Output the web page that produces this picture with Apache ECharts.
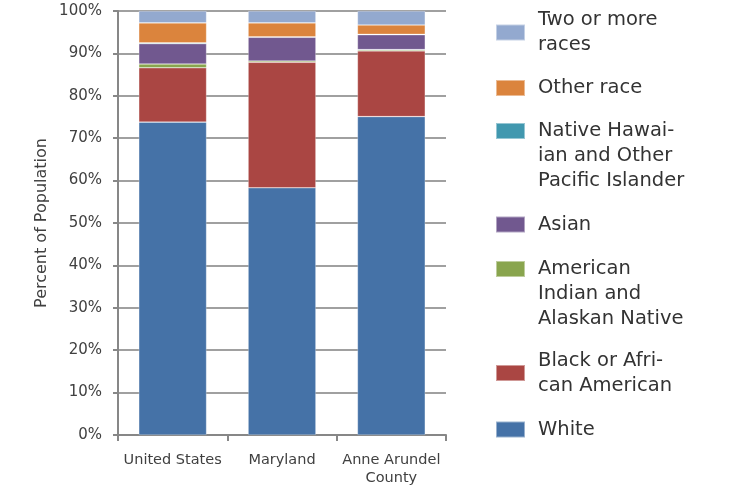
<!DOCTYPE html>
<html>
<head>
<meta charset="utf-8">
<script src="https://cdn.jsdelivr.net/npm/echarts@6/dist/echarts.min.js"></script>
<style>
html,body{margin:0;padding:0;background:#fff;}
#chart{width:729px;height:492px;}
</style>
</head>
<body>
<div id="chart"></div>
<script>
// ---- data ----
var categories = ['United States', 'Maryland', 'Anne Arundel County'];
var white      = [73.8, 58.3, 75.1];
var black      = [12.8, 29.6, 15.5];
var aian       = [0.9, 0.3, 0.3];
var asian      = [4.8, 5.6, 3.5];
var nhpi       = [0.2, 0.1, 0.1];
var otherRace  = [4.7, 3.3, 2.2];
var twoOrMore  = [2.8, 2.8, 3.3];
var yTicks = [0, 10, 20, 30, 40, 50, 60, 70, 80, 90, 100];

var seriesNames = ['White', 'Black or African American', 'American Indian and Alaskan Native',
  'Asian', 'Native Hawaiian and Other Pacific Islander', 'Other race', 'Two or more races'];
var seriesData = [white, black, aian, asian, nhpi, otherRace, twoOrMore];
var colors = ['#4572A7', '#AA4643', '#89A54E', '#71588F', '#4198AF', '#DB843D', '#93A9CF'];
// leading blank lines keep the icon aligned with the first text line
var legendLabels = {
  'Two or more races': 'Two or more\nraces',
  'Other race': 'Other race',
  'Native Hawaiian and Other Pacific Islander': '\n\nNative Hawai-\nian and Other\nPacific Islander',
  'Asian': 'Asian',
  'American Indian and Alaskan Native': '\n\nAmerican\nIndian and\nAlaskan Native',
  'Black or African American': 'Black or Afri-\ncan American',
  'White': 'White'
};
// legend layout: [name, top]
var legendLayout = [
  ['Two or more races', 7.5],
  ['Other race', 75.5],
  ['Native Hawaiian and Other Pacific Islander', 68.5],
  ['Asian', 212],
  ['American Indian and Alaskan Native', 206.5],
  ['Black or African American', 348],
  ['White', 417]
];

var FONT = 'DejaVu Sans';
var chart = echarts.init(document.getElementById('chart'));

var legends = legendLayout.map(function (l) {
  return {
    data: [l[0]],
    orient: 'vertical',
    left: 495,
    top: l[1],
    padding: 0,
    itemWidth: 29,
    itemHeight: 16,
    icon: 'rect',
    selectedMode: false,
    formatter: function (n) { return legendLabels[n]; },
    textStyle: {
      fontFamily: FONT, fontSize: 19.5, color: '#333333',
      lineHeight: 25, padding: [0, 0, 0, 8]
    }
  };
});

var series = seriesNames.map(function (n, i) {
  return {
    name: n,
    type: 'bar',
    stack: 'total',
    barWidth: '62%',
    data: seriesData[i],
    itemStyle: { color: colors[i], borderColor: 'rgba(255,255,255,0.45)', borderWidth: 0.6 },
    emphasis: { disabled: true }
  };
});

chart.setOption({
  animation: false,
  color: colors,
  textStyle: { fontFamily: FONT },
  grid: { left: 118, right: 283, top: 11, bottom: 57, containLabel: false },
  legend: legends,
  xAxis: {
    type: 'category',
    data: categories,
    axisLine: { lineStyle: { color: '#878787', width: 2 } },
    axisTick: { show: true, length: 6, lineStyle: { color: '#878787', width: 2 } },
    axisLabel: {
      color: '#404040', fontSize: 14.5, fontFamily: FONT, margin: 16, lineHeight: 18, interval: 0,
      formatter: function (v) { return v.replace('Anne Arundel ', 'Anne Arundel\n'); }
    }
  },
  yAxis: {
    type: 'value',
    min: yTicks[0], max: yTicks[yTicks.length - 1], interval: 10,
    name: 'Percent of Population',
    nameLocation: 'middle',
    nameGap: 68,
    nameRotate: 90,
    nameTextStyle: { color: '#404040', fontSize: 16, fontFamily: FONT },
    axisLine: { show: true, lineStyle: { color: '#878787', width: 2 } },
    axisTick: { show: true, length: 5, lineStyle: { color: '#878787', width: 2 } },
    axisLabel: { color: '#404040', fontSize: 15, fontFamily: FONT, margin: 16, formatter: '{value}%' },
    splitLine: { show: true, lineStyle: { color: '#A0A0A0', width: 2 } }
  },
  series: series
});
</script>
</body>
</html>
